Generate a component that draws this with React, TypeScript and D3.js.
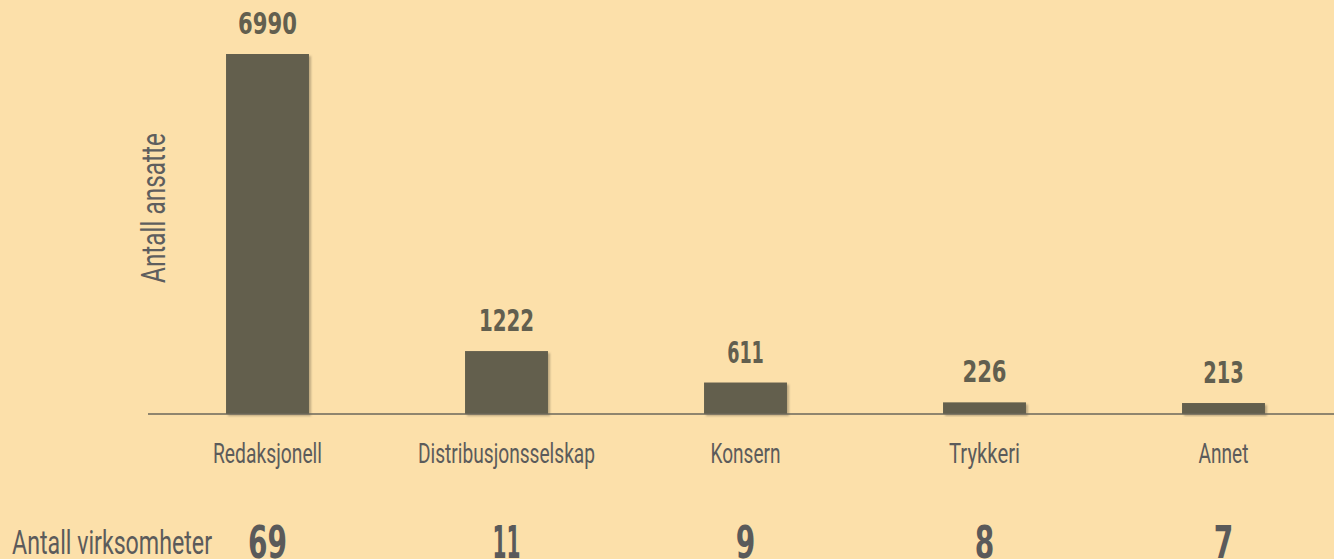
import React from "react";
import * as d3 from "d3";

const categories = ["Redaksjonell", "Distribusjonsselskap", "Konsern", "Trykkeri", "Annet"];
const employees = [6990, 1222, 611, 226, 213];
const companies = [69, 11, 9, 8, 7];
const yTitle = "Antall ansatte";
const rowTitle = "Antall virksomheter";

const W = 1334;
const H = 559;
const NUM_FONT = "'DejaVu Sans Condensed', 'Liberation Sans Narrow', sans-serif";
const LABEL_FONT = "Roboto, 'DejaVu Sans Condensed', sans-serif";

// rendered text widths (style), keyed by label
const labelLengths: Record<string, number> = {
  Redaksjonell: 109,
  Distribusjonsselskap: 177,
  Konsern: 70,
  Trykkeri: 71,
  Annet: 50,
};

function digitsWidth(s: string, d: number, one: number) {
  let w = 0;
  for (const c of s) w += c === "1" ? one : d;
  return w;
}

export default function App() {
  const x = d3.scaleBand<string>().domain(categories).range([148, 1343]).paddingInner(0.653).paddingOuter(0.3265);
  const y = d3.scaleLinear().domain([0, 6990]).range([414, 54]);
  const base = y(0);
  const cx = (c: string) => (x(c) as number) + x.bandwidth() / 2;

  return (
    <svg width={W} height={H} style={{ position: "absolute", left: 0, top: 0, display: "block" }}>
      <defs>
        <filter id="sh" x="-10%" y="-10%" width="130%" height="130%">
          <feDropShadow dx="2" dy="2" stdDeviation="1.2" floodColor="#000" floodOpacity="0.25" />
        </filter>
      </defs>
      <rect x={0} y={0} width={W} height={H} fill="#fce0aa" />
      {categories.map((c, i) => (
        <rect key={c} x={x(c)} y={y(employees[i])} width={x.bandwidth()} height={base - y(employees[i])} fill="#635f4d" filter="url(#sh)" />
      ))}
      <line x1={148} x2={W} y1={base} y2={base} stroke="#6b675a" strokeWidth={1.6} />
      {categories.map((c, i) => {
        const s = String(employees[i]);
        return (
          <text key={"v" + c} x={cx(c)} y={y(employees[i]) - 20} textAnchor="middle"
            fontFamily={NUM_FONT} fontWeight="bold" fontSize={31} fill="#625f4f"
            textLength={digitsWidth(s, 14.7, 11)} lengthAdjust="spacingAndGlyphs">{s}</text>
        );
      })}
      {categories.map((c) => (
        <text key={"c" + c} x={cx(c)} y={463} textAnchor="middle"
          fontFamily={LABEL_FONT} fontWeight={400} fontSize={27} fill="#5b5b5b"
          textLength={labelLengths[c]} lengthAdjust="spacingAndGlyphs">{c}</text>
      ))}
      <text x={12} y={554} fontFamily={LABEL_FONT} fontWeight={400} fontSize={33} fill="#5b5b5b" textLength={200} lengthAdjust="spacingAndGlyphs">{rowTitle}</text>
      {categories.map((c, i) => {
        const s = String(companies[i]);
        return (
          <text key={"n" + c} x={cx(c)} y={558} textAnchor="middle"
            fontFamily={NUM_FONT} fontWeight="bold" fontSize={44} fill="#5a5a5a"
            textLength={digitsWidth(s, 19.5, 14)} lengthAdjust="spacingAndGlyphs">{s}</text>
        );
      })}
      <text transform={`translate(165,208) rotate(-90)`} textAnchor="middle" fontFamily={LABEL_FONT} fontSize={34} fill="#5e5e5e"
        textLength={150} lengthAdjust="spacingAndGlyphs">{yTitle}</text>
    </svg>
  );
}
